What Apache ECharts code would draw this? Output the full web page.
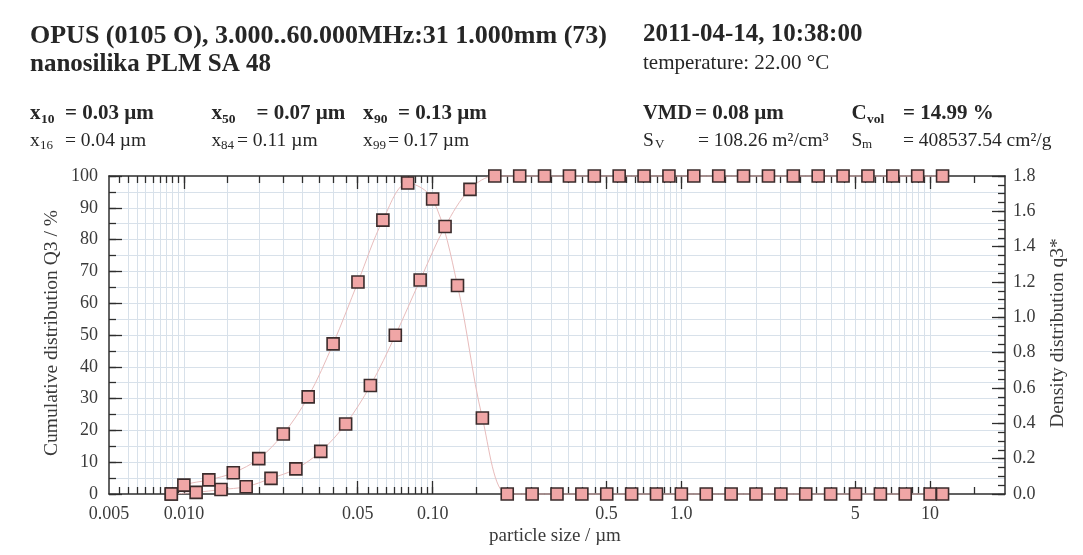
<!DOCTYPE html>
<html><head><meta charset="utf-8">
<script src="https://cdn.jsdelivr.net/npm/echarts@6/dist/echarts.min.js"></script>
<style>html,body{margin:0;padding:0;background:#fff}#c{width:1083px;height:555px}</style>
</head><body><div id="c"></div>
<script>
// ---- data (particle size in µm) ----
// cumulative distribution Q3 / % at class upper bounds
const cumSizes = [0.0089,0.0112,0.0141,0.0178,0.0224,0.0282,0.0355,0.0447,0.0562,0.0708,0.0891,0.1122,0.1413,0.1778,0.2239,0.2818,0.3548,0.4467,0.5623,0.7079,0.8913,1.122,1.413,1.778,2.239,2.818,3.548,4.467,5.623,7.079,8.913,11.22];
const cumQ3 = [0,0.5,1.4,2.3,4.9,7.9,13.4,22.0,34.1,49.9,67.3,84.1,95.8,100,100,100,100,100,100,100,100,100,100,100,100,100,100,100,100,100,100,100];
// density distribution q3* at class mid points
const densSizes = [0.0089,0.0100,0.0126,0.0158,0.0200,0.0251,0.0316,0.0398,0.0501,0.0631,0.0794,0.1000,0.1259,0.1585,0.1995,0.2512,0.3162,0.3981,0.5012,0.6310,0.7943,1.000,1.259,1.585,1.995,2.512,3.162,3.981,5.012,6.310,7.943,10.00,11.22];
const densQ3 = [0,0.05,0.08,0.12,0.20,0.34,0.55,0.85,1.20,1.55,1.76,1.67,1.18,0.43,0,0,0,0,0,0,0,0,0,0,0,0,0,0,0,0,0,0,0];
// axis ticks
const xRange = [0.005, 20];
const xLabelValues = [0.005,0.01,0.05,0.1,0.5,1,5,10];
const xLabelTexts = ['0.005','0.010','0.05','0.10','0.5','1.0','5','10'];
const xMinorSteps = [[0.005,0.01,0.0005],[0.01,0.1,0.005],[0.1,1,0.05],[1,10,0.5],[10,20,5]];
const yLeftRange = [0, 100], yLeftMajor = 10, yLeftMinor = 5;
const yRightRange = [0, 1.8], yRightMajor = 0.2, yRightMinor = 0.05;

// ---- helpers ----
const L = v => Math.log10(v);
const xMin = L(xRange[0]), xMax = L(xRange[1]);
const majorLog = xLabelValues.filter(v => v > xRange[0]).map(L);
const labelLog = xLabelValues.map(L);
const minorLog = [];
xMinorSteps.forEach(([a, b, s]) => {
  const n = Math.round((b - a) / s);
  for (let k = 1; k < n; k++) minorLog.push(L(+(a + k * s).toFixed(6)));
  if (b < xRange[1]) minorLog.push(L(b));
});

const SERIF = '"Liberation Serif", "DejaVu Serif", serif';
const axisCol = '#2e2e2e';
const gridCol = '#d8e1ea';
const lblStyle = { fontFamily: SERIF, fontSize: 18, color: '#3a3a3a' };
const axLine = { show: true, onZero: false, lineStyle: { color: axisCol, width: 1.5 } };
const noLine = { show: false, onZero: false };
const tickLS = { color: axisCol, width: 1.3 };

function txt(x, y, text, size, bold, extra) {
  return Object.assign({
    type: 'text', x: x, y: y, silent: true,
    style: { x: 0, y: 0, text: text, font: (bold ? 'bold ' : '') + size + 'px ' + SERIF,
      fill: '#262626', textAlign: 'left', align: 'left', textVerticalAlign: 'middle', verticalAlign: 'middle' }
  }, extra || {});
}
const header = [
  txt(30, 36, 'OPUS (0105 O), 3.000..60.000MHz:31 1.000mm (73)', 26, true),
  txt(30, 65, 'nanosilika PLM SA 48', 25, true),
  txt(643, 35, '2011-04-14, 10:38:00', 25, true),
  txt(643, 63, 'temperature: 22.00 °C', 21, false),
  // row 3 (bold)
  txt(30, 114, 'x', 21, true), txt(41, 119.5, '10', 13.5, true), txt(65, 114, '= 0.03 µm', 21, true),
  txt(211.5, 114, 'x', 21, true), txt(222, 119.5, '50', 13.5, true), txt(256.5, 114, '= 0.07 µm', 21, true),
  txt(363, 114, 'x', 21, true), txt(374, 119.5, '90', 13.5, true), txt(398, 114, '= 0.13 µm', 21, true),
  txt(643, 114, 'VMD', 20.5, true), txt(695, 114, '= 0.08 µm', 21, true),
  txt(851.5, 114, 'C', 21, true), txt(867, 119.5, 'vol', 13.5, true), txt(903, 114, '= 14.99 %', 21, true),
  // row 4 (regular)
  txt(30, 140.5, 'x', 19.5, false), txt(40, 145.5, '16', 13, false), txt(65, 140.5, '= 0.04 µm', 19.5, false),
  txt(211.5, 140.5, 'x', 19.5, false), txt(221, 145.5, '84', 13, false), txt(237, 140.5, '= 0.11 µm', 19.5, false),
  txt(363, 140.5, 'x', 19.5, false), txt(373, 145.5, '99', 13, false), txt(388, 140.5, '= 0.17 µm', 19.5, false),
  txt(643, 140.5, 'S', 19.5, false), txt(655, 144.5, 'V', 13, false), txt(698, 140.5, '= 108.26 m²/cm³', 19.5, false),
  txt(851.5, 140.5, 'S', 19.5, false), txt(862, 144.5, 'm', 13, false), txt(903, 140.5, '= 408537.54 cm²/g', 19.5, false),
  // axis titles
  txt(52, 333, 'Cumulative distribution Q3 / %', 19.5, false, { rotation: Math.PI / 2 }),
  txt(1058, 333, 'Density distribution q3*', 19.5, false, { rotation: Math.PI / 2 }),
  txt(555, 536, 'particle size / µm', 19, false)
];
header.slice(-3).forEach(e => { e.style.textAlign = 'center'; e.style.align = 'center'; e.style.fill = '#3a3a3a'; });

const gridRect = { left: 109, top: 176, right: 78, bottom: 61 };
const xBase = { type: 'value', min: xMin, max: xMax, axisLabel: { show: false }, splitLine: { show: false } };

const chart = echarts.init(document.getElementById('c'), null, { renderer: 'canvas' });
chart.setOption({
  backgroundColor: '#ffffff',
  animation: false,
  graphic: { elements: header },
  grid: [Object.assign({}, gridRect), Object.assign({}, gridRect)],
  xAxis: [
    Object.assign({}, xBase, { gridIndex: 0, position: 'bottom', z: 3, axisLine: axLine,
      axisTick: { show: true, inside: true, length: 13, customValues: majorLog, lineStyle: tickLS },
      axisLabel: Object.assign({ show: true, customValues: labelLog, margin: 11,
        formatter: v => { let bi = 0; labelLog.forEach((l, i) => { if (Math.abs(l - v) < Math.abs(labelLog[bi] - v)) bi = i; }); return xLabelTexts[bi]; } }, lblStyle) }),
    Object.assign({}, xBase, { gridIndex: 0, position: 'top', z: 3, axisLine: axLine,
      axisTick: { show: true, inside: true, length: 13, customValues: majorLog, lineStyle: tickLS } }),
    Object.assign({}, xBase, { gridIndex: 1, position: 'bottom', z: 1, axisLine: noLine,
      axisTick: { show: true, inside: true, length: 7, customValues: minorLog, lineStyle: tickLS },
      splitLine: { show: true, showMinLine: false, showMaxLine: false, lineStyle: { color: gridCol, width: 1 } } }),
    Object.assign({}, xBase, { gridIndex: 1, position: 'top', z: 1, axisLine: noLine,
      axisTick: { show: true, inside: true, length: 7, customValues: minorLog, lineStyle: tickLS } })
  ],
  yAxis: [
    { type: 'value', gridIndex: 0, position: 'left', min: yLeftRange[0], max: yLeftRange[1], interval: yLeftMajor, z: 3,
      axisLine: axLine, axisTick: { show: true, inside: true, length: 13, lineStyle: tickLS },
      axisLabel: Object.assign({ margin: 11 }, lblStyle), splitLine: { show: false } },
    { type: 'value', gridIndex: 0, position: 'right', min: yRightRange[0], max: yRightRange[1], interval: yRightMajor, z: 3,
      axisLine: axLine, axisTick: { show: true, inside: true, length: 13, lineStyle: tickLS },
      axisLabel: Object.assign({ margin: 8, formatter: v => v.toFixed(1) }, lblStyle), splitLine: { show: false } },
    { type: 'value', gridIndex: 1, position: 'left', min: yLeftRange[0], max: yLeftRange[1], interval: yLeftMinor, z: 1,
      axisLine: noLine, axisTick: { show: true, inside: true, length: 7, lineStyle: tickLS },
      axisLabel: { show: false },
      splitLine: { show: true, showMinLine: false, showMaxLine: false, lineStyle: { color: gridCol, width: 1 } } },
    { type: 'value', gridIndex: 1, position: 'right', min: yRightRange[0], max: yRightRange[1], interval: yRightMinor, z: 1,
      axisLine: noLine, axisTick: { show: true, inside: true, length: 7, lineStyle: tickLS },
      axisLabel: { show: false }, splitLine: { show: false } }
  ],
  series: [
    { type: 'line', name: 'Cumulative distribution Q3', xAxisIndex: 0, yAxisIndex: 0, z: 5, clip: false,
      data: cumSizes.map((s, i) => [L(s), cumQ3[i]]),
      smooth: 0.35, symbol: 'rect', symbolSize: 12, showAllSymbol: true,
      lineStyle: { color: '#e8bcbc', width: 1 },
      itemStyle: { color: '#f0a6a6', borderColor: '#3a2b2b', borderWidth: 1.6 } },
    { type: 'line', name: 'Density distribution q3*', xAxisIndex: 0, yAxisIndex: 1, z: 5, clip: false,
      data: densSizes.map((s, i) => [L(s), densQ3[i]]),
      smooth: 0.35, symbol: 'rect', symbolSize: 12, showAllSymbol: true,
      lineStyle: { color: '#e8bcbc', width: 1 },
      itemStyle: { color: '#f0a6a6', borderColor: '#3a2b2b', borderWidth: 1.6 } }
  ]
});
</script>
</body></html>
